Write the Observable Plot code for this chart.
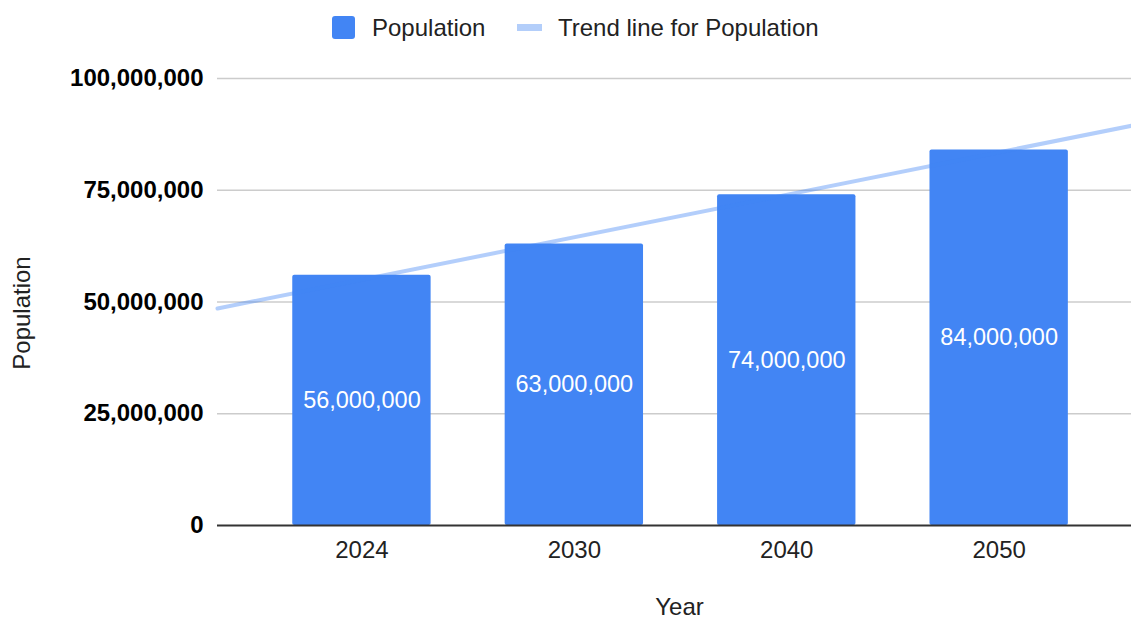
<!DOCTYPE html>
<html>
<head>
<meta charset="utf-8">
<script src="https://cdn.jsdelivr.net/npm/d3@7"></script>
<script src="https://cdn.jsdelivr.net/npm/@observablehq/plot@0.6"></script>
<style>
  html, body { margin: 0; padding: 0; background: #fff; }
  body { font-family: "Liberation Sans", Arial, sans-serif; width: 1131px; height: 618px; overflow: hidden; }
  #legend { height: 55px; position: relative; font-size: 24px; color: #222; }
  .item { position: absolute; top: 0; height: 55px; display: flex; align-items: center; }
  .sq { width: 23px; height: 23px; background: #4285f4; border-radius: 3px; }
  .ln { width: 25px; height: 7px; background: #b3cefa; }
  #chart svg { display: block; }
</style>
</head>
<body>
<div id="legend">
  <div class="item" style="left:332px; top:0px;"><div class="sq"></div><span style="margin-left:17px;">Population</span></div>
  <div class="item" style="left:517px; top:0px;"><div class="ln"></div><span style="margin-left:16px;">Trend line for Population</span></div>
</div>
<div id="chart"></div>
<script>
const years = ["2024", "2030", "2040", "2050"];
const population = [56000000, 63000000, 74000000, 84000000];
const yTicks = [0, 25000000, 50000000, 75000000, 100000000];

const data = years.map((yr, i) => ({ i, year: yr, value: population[i] }));

// least-squares trend over category index (as in Google Sheets)
const mx = d3.mean(data, d => d.i);
const my = d3.mean(data, d => d.value);
const slope = d3.sum(data, d => (d.i - mx) * (d.value - my)) / d3.sum(data, d => (d.i - mx) ** 2);
const intercept = my - slope * mx;

const xDomain = [-0.68, 3.623];
const trend = xDomain.map(x => ({ x, y: intercept + slope * x }));

const halfBar = 0.3257;
const fmt = d3.format(",");

const chart = Plot.plot({
  width: 1131,
  height: 563,
  marginLeft: 217,
  marginRight: 0,
  marginTop: 23,
  marginBottom: 93,
  style: { fontFamily: "'Liberation Sans', Arial, sans-serif", background: "#fff" },
  x: { type: "linear", domain: xDomain },
  y: { domain: [0, 100000000] },
  marks: [
    Plot.ruleY(yTicks.filter(d => d > 0), { stroke: "#cccccc", strokeWidth: 1.5 }),
    Plot.rectY(data, { x1: d => d.i - halfBar, x2: d => d.i + halfBar, y1: 0, y2: "value", fill: "#4285f4", rx: 2 }),
    Plot.ruleY([0], { stroke: "#333333", strokeWidth: 2 }),
    Plot.line(trend, { x: "x", y: "y", stroke: "#4285f4", strokeOpacity: 0.4, strokeWidth: 4 }),
    Plot.text(data, { x: "i", y: d => d.value / 2, text: d => fmt(d.value), fill: "white", fontSize: 23.5 }),
    Plot.axisY({ ticks: yTicks, tickFormat: fmt, tickSize: 0, tickPadding: 14, fontSize: 24, fontWeight: "bold", fill: "#000", label: null }),
    Plot.axisX({ ticks: data.map(d => d.i), tickFormat: i => years[i], tickSize: 0, tickPadding: 15, fontSize: 24, fill: "#222", label: null }),
    Plot.text(["Year"], { frameAnchor: "bottom", dx: 5, dy: 89, fontSize: 24, fill: "#222" }),
    Plot.text(["Population"], { frameAnchor: "left", textAnchor: "middle", dx: -195, dy: 11, rotate: -90, fontSize: 24, fill: "#222" })
  ]
});
document.getElementById("chart").appendChild(chart);
</script>
</body>
</html>
